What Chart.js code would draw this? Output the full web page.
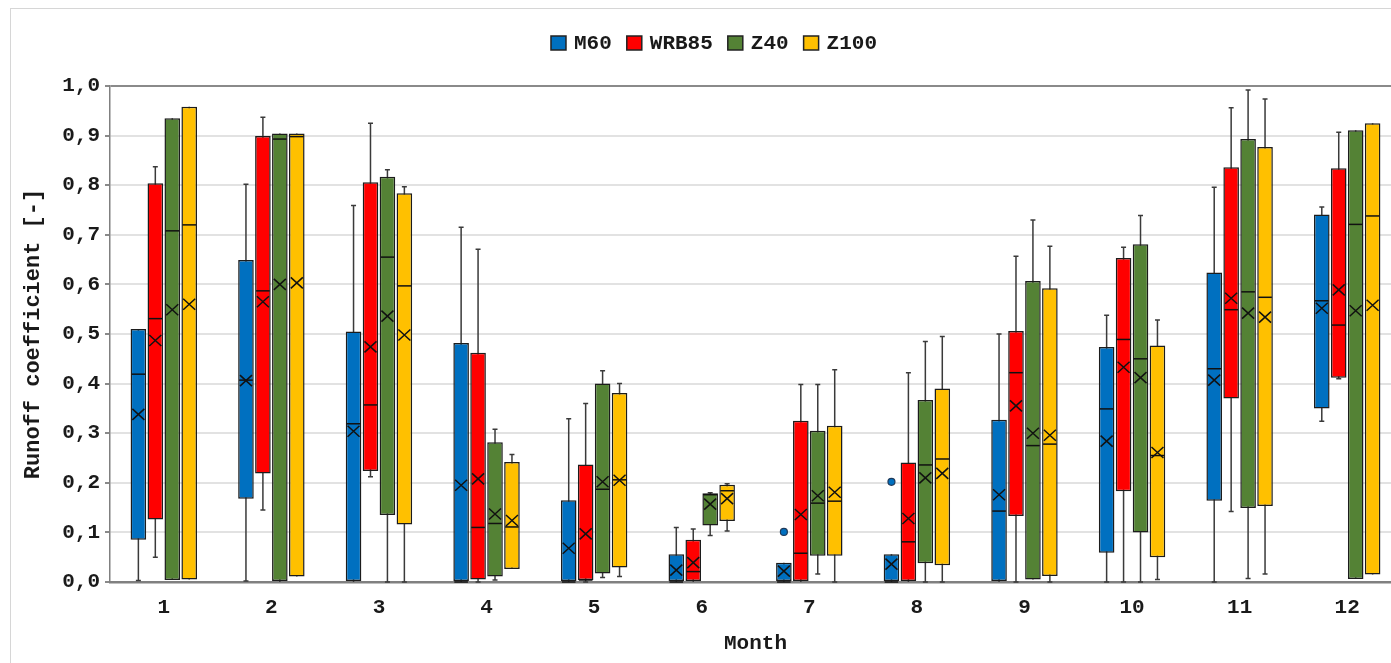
<!DOCTYPE html>
<html>
<head>
<meta charset="utf-8">
<script src="https://cdn.jsdelivr.net/npm/chart.js@4.4.1/dist/chart.umd.min.js"></script>
<style>
    html, body { margin: 0; padding: 0; background: #fff; overflow: hidden; }
    #frame {
        position: absolute; left: 10px; top: 8px; width: 1420px; height: 700px;
        border-left: 1px solid #d6d6d6; border-top: 1px solid #d6d6d6;
    }
    #chart { position: absolute; left: 0; top: 0; }
</style>
</head>
<body>
<div id="frame"></div>
<canvas id="chart" width="1410" height="663"></canvas>
<script>
const months = ['1', '2', '3', '4', '5', '6', '7', '8', '9', '10', '11', '12'];
const seriesNames = ['M60', 'WRB85', 'Z40', 'Z100'];
const seriesColors = ['#0070C0', '#FF0000', '#548235', '#FFC000'];
const yTicks = [0, 0.1, 0.2, 0.3, 0.4, 0.5, 0.6, 0.7, 0.8, 0.9, 1.0];

// each row: [min, q1, median, q3, max, mean] for one month
const m60 = [
    [0.003, 0.085, 0.419, 0.510, 0.510, 0.338],
    [0.002, 0.168, 0.407, 0.649, 0.802, 0.406],
    [0.000, 0.000, 0.319, 0.505, 0.759, 0.304],
    [0.000, 0.000, 0.000, 0.482, 0.715, 0.195],
    [0.000, 0.000, 0.000, 0.165, 0.329, 0.068],
    [0.000, 0.000, 0.000, 0.056, 0.110, 0.024],
    [0.000, 0.000, 0.000, 0.039, 0.039, 0.022],
    [0.000, 0.000, 0.000, 0.056, 0.056, 0.036],
    [0.000, 0.000, 0.143, 0.327, 0.500, 0.176],
    [0.000, 0.059, 0.349, 0.474, 0.538, 0.284],
    [0.000, 0.164, 0.430, 0.624, 0.796, 0.407],
    [0.324, 0.350, 0.567, 0.741, 0.756, 0.552]
];
const wrb85 = [
    [0.050, 0.126, 0.531, 0.804, 0.837, 0.487],
    [0.145, 0.219, 0.587, 0.899, 0.937, 0.565],
    [0.212, 0.224, 0.357, 0.806, 0.925, 0.474],
    [0.000, 0.005, 0.110, 0.462, 0.671, 0.208],
    [0.000, 0.004, 0.004, 0.237, 0.360, 0.097],
    [0.000, 0.000, 0.021, 0.085, 0.107, 0.039],
    [0.000, 0.000, 0.058, 0.325, 0.398, 0.136],
    [0.000, 0.000, 0.081, 0.241, 0.422, 0.128],
    [0.000, 0.133, 0.422, 0.506, 0.657, 0.355],
    [0.000, 0.183, 0.489, 0.653, 0.675, 0.433],
    [0.142, 0.370, 0.549, 0.836, 0.956, 0.572],
    [0.410, 0.412, 0.518, 0.834, 0.907, 0.589]
];
const z40 = [
    [0.004, 0.004, 0.708, 0.935, 0.935, 0.549],
    [0.000, 0.000, 0.893, 0.904, 0.904, 0.600],
    [0.000, 0.135, 0.655, 0.817, 0.831, 0.536],
    [0.004, 0.011, 0.118, 0.282, 0.308, 0.137],
    [0.009, 0.017, 0.187, 0.400, 0.426, 0.202],
    [0.094, 0.114, 0.176, 0.179, 0.180, 0.157],
    [0.016, 0.053, 0.159, 0.305, 0.398, 0.174],
    [0.000, 0.038, 0.236, 0.367, 0.485, 0.210],
    [0.005, 0.005, 0.275, 0.607, 0.730, 0.300],
    [0.000, 0.100, 0.450, 0.681, 0.739, 0.412],
    [0.007, 0.149, 0.585, 0.893, 0.992, 0.542],
    [0.006, 0.006, 0.721, 0.911, 0.911, 0.547]
];
const z100 = [
    [0.005, 0.005, 0.720, 0.958, 0.958, 0.560],
    [0.011, 0.011, 0.898, 0.904, 0.904, 0.603],
    [0.000, 0.116, 0.597, 0.784, 0.797, 0.498],
    [0.026, 0.026, 0.111, 0.242, 0.257, 0.124],
    [0.011, 0.029, 0.206, 0.381, 0.400, 0.205],
    [0.103, 0.123, 0.184, 0.196, 0.198, 0.168],
    [0.000, 0.053, 0.163, 0.315, 0.428, 0.181],
    [0.000, 0.034, 0.248, 0.390, 0.495, 0.219],
    [0.000, 0.012, 0.278, 0.592, 0.677, 0.296],
    [0.005, 0.050, 0.255, 0.477, 0.528, 0.261],
    [0.016, 0.153, 0.574, 0.877, 0.974, 0.534],
    [0.015, 0.015, 0.738, 0.925, 0.925, 0.558]
];
// outlier points per month
const m60Outliers = [[], [], [], [], [], [], [0.101], [0.202], [], [], [], []];
const noOutliers = months.map(() => []);

const allStats = [m60, wrb85, z40, z100];
const allOutliers = [m60Outliers, noOutliers, noOutliers, noOutliers];

const FONT = "'Liberation Mono', 'Courier New', monospace";
const TEXT = '#1a1a1a';

const boxExtras = {
    id: 'boxExtras',
    beforeDatasetsDraw(chart) {
        const ctx = chart.ctx;
        const y = chart.scales.y;
        ctx.save();
        ctx.strokeStyle = '#3a3a3a';
        ctx.lineWidth = 1.5;
        chart.data.datasets.forEach((ds, i) => {
            chart.getDatasetMeta(i).data.forEach((bar, j) => {
                const s = ds.stats[j];
                const yMin = y.getPixelForValue(s[0]);
                const yMax = y.getPixelForValue(s[4]);
                ctx.beginPath();
                ctx.moveTo(bar.x, yMin);
                ctx.lineTo(bar.x, yMax);
                if (s[0] < s[1]) { ctx.moveTo(bar.x - 2.5, yMin); ctx.lineTo(bar.x + 2.5, yMin); }
                if (s[4] > s[3]) { ctx.moveTo(bar.x - 2.5, yMax); ctx.lineTo(bar.x + 2.5, yMax); }
                ctx.stroke();
            });
        });
        ctx.restore();
    },
    afterDatasetsDraw(chart) {
        const ctx = chart.ctx;
        const y = chart.scales.y;
        ctx.save();
        chart.data.datasets.forEach((ds, i) => {
            chart.getDatasetMeta(i).data.forEach((bar, j) => {
                const s = ds.stats[j];
                const half = bar.width / 2;
                // median
                ctx.strokeStyle = '#111';
                ctx.lineWidth = 1.5;
                const yMed = y.getPixelForValue(s[2]);
                ctx.beginPath();
                ctx.moveTo(bar.x - half + 1, yMed);
                ctx.lineTo(bar.x + half - 1, yMed);
                ctx.stroke();
                // mean marker
                const yMean = y.getPixelForValue(s[5]);
                ctx.beginPath();
                ctx.moveTo(bar.x - 6, yMean - 5.5);
                ctx.lineTo(bar.x + 6, yMean + 5.5);
                ctx.moveTo(bar.x + 6, yMean - 5.5);
                ctx.lineTo(bar.x - 6, yMean + 5.5);
                ctx.stroke();
                // outliers
                ds.outliers[j].forEach(v => {
                    ctx.beginPath();
                    ctx.arc(bar.x, y.getPixelForValue(v), 3.5, 0, Math.PI * 2);
                    ctx.fillStyle = ds.backgroundColor;
                    ctx.fill();
                    ctx.lineWidth = 1.2;
                    ctx.strokeStyle = '#1f3a5a';
                    ctx.stroke();
                });
            });
        });
        ctx.restore();
    },
    afterDraw(chart) {
        // legend row
        const ctx = chart.ctx;
        ctx.save();
        ctx.font = 'bold 21px ' + FONT;
        ctx.textBaseline = 'middle';
        const gap = 8, space = 15, box = 15;
        const items = chart.data.datasets.map(ds => ({
            ds, w: box + gap + ctx.measureText(ds.label).width
        }));
        const total = items.reduce((a, it) => a + it.w, 0) + space * (items.length - 1);
        let x = 714 - total / 2;
        const cy = 43;
        items.forEach(it => {
            ctx.fillStyle = it.ds.backgroundColor;
            ctx.fillRect(x, cy - 7, box, 14);
            ctx.strokeStyle = '#222';
            ctx.lineWidth = 1.5;
            ctx.strokeRect(x, cy - 7, box, 14);
            ctx.fillStyle = TEXT;
            ctx.fillText(it.ds.label, x + box + gap, cy + 1);
            x += it.w + space;
        });
        ctx.restore();
    }
};

const datasets = seriesNames.map((name, i) => ({
    label: name,
    data: allStats[i].map(s => [s[1], s[3]]),
    stats: allStats[i],
    outliers: allOutliers[i],
    backgroundColor: seriesColors[i],
    borderColor: '#1c1c1c',
    borderWidth: 1.5,
    borderSkipped: false,
    categoryPercentage: 0.63,
    barPercentage: 0.92
}));

new Chart(document.getElementById('chart'), {
    type: 'bar',
    data: { labels: months, datasets: datasets },
    plugins: [boxExtras],
    options: {
        responsive: false,
        animation: false,
        layout: { padding: { top: 86, right: 9, bottom: 0, left: 0 } },
        plugins: {
            legend: { display: false },
            tooltip: { enabled: false }
        },
        scales: {
            x: {
                grid: { display: false, drawTicks: false },
                border: { color: '#808080', width: 2.5 },
                ticks: { color: TEXT, font: { family: FONT, size: 21, weight: 'bold' }, padding: 13 },
                title: {
                    display: true, text: 'Month', color: TEXT,
                    font: { family: FONT, size: 21, weight: 'bold' },
                    padding: { top: 0, bottom: 7 }
                },
                afterFit(scale) { scale.height = 81; }
            },
            y: {
                min: 0,
                max: 1,
                afterBuildTicks(scale) { scale.ticks = yTicks.map(v => ({ value: v })); },
                grid: {
                    color: ctx => ctx.tick && ctx.tick.value === 1 ? '#8a8a8a' : '#e2e2e2',
                    lineWidth: 2,
                    tickLength: 5,
                    tickColor: '#8a8a8a'
                },
                border: { color: '#808080', width: 1.5 },
                ticks: {
                    color: TEXT,
                    padding: 5,
                    font: { family: FONT, size: 21, weight: 'bold' },
                    callback: v => v.toFixed(1).replace('.', ',')
                },
                title: {
                    display: true, text: 'Runoff coefficient [-]', color: TEXT,
                    font: { family: FONT, size: 22, weight: 'bold' },
                    padding: { top: 20, bottom: 0 }
                },
                afterFit(scale) { scale.width = 110; }
            }
        }
    }
});
</script>
</body>
</html>
